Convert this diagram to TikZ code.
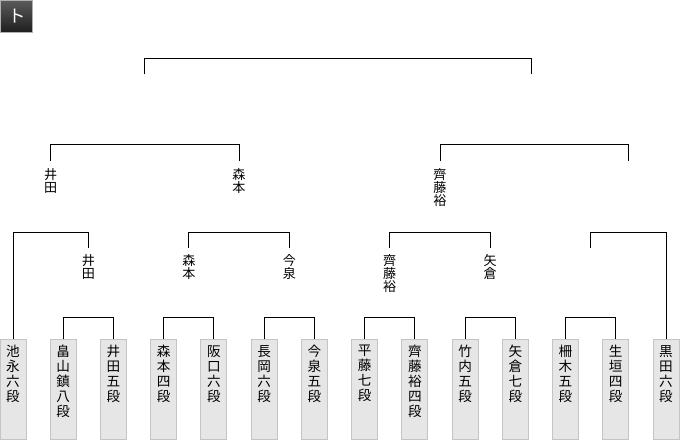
\documentclass[tikz,border=0pt]{standalone}
\usepackage{fontspec}
\newfontfamily\cjk{Noto Sans CJK JP}
\usetikzlibrary{calc}
\definecolor{boxfill}{HTML}{E6E6E6}
\definecolor{boxline}{HTML}{C4C4C4}
\definecolor{badgetop}{HTML}{5A5A5A}
\definecolor{badgebot}{HTML}{1E1E1E}
\definecolor{badgeedge}{HTML}{B0B0B0}
\begin{document}
\begin{tikzpicture}[x=0.75pt,y=-0.75pt,
  bline/.style={draw=black, line width=0.75pt},
  player/.style={draw=boxline, fill=boxfill, line width=0.75pt, minimum width=19.5pt, minimum height=75pt, inner sep=0pt, anchor=north},
  pname/.style={anchor=north, inner sep=0pt, align=center, font={\cjk\fontsize{10.2}{11.25}\selectfont}},
  wname/.style={anchor=north, inner sep=0pt, align=center, font={\cjk\fontsize{9.8}{9.75}\selectfont}}
]
\useasboundingbox (0,0) rectangle (680,440);
% badge
\node[draw=badgeedge, line width=0.75pt, top color=badgetop, bottom color=badgebot, minimum width=24pt, minimum height=24pt, inner sep=0pt, anchor=north west] (badge) at (0,0) {};
\node[text=white, inner sep=0pt, font={\cjk\fontsize{13}{13}\selectfont}] (badgetxt) at (17.5,16) {ト};
% players
\foreach \k/\nm in {0/{池\\永\\六\\段},1/{畠\\山\\鎮\\八\\段},2/{井\\田\\五\\段},3/{森\\本\\四\\段},4/{阪\\口\\六\\段},5/{長\\岡\\六\\段},6/{今\\泉\\五\\段},7/{平\\藤\\七\\段},8/{齊\\藤\\裕\\四\\段},9/{竹\\内\\五\\段},10/{矢\\倉\\七\\段},11/{柵\\木\\五\\段},12/{生\\垣\\四\\段},13/{黒\\田\\六\\段}}{
  \node[player] (b\k) at ({13+50.23*\k},339) {};
  \node[pname] (t\k) at ($(b\k.north)+(0,6)$) {\nm};
}
% round 1
\foreach \i/\j in {1/2,3/4,5/6,7/8,9/10,11/12}
  \draw[bline] (b\i.north) -- ++(0,-22) -| (b\j.north);
% round 2
\coordinate (q1) at (88.3,248);
\coordinate (q2) at (188.8,248);
\coordinate (q3) at (289.3,248);
\coordinate (q4) at (389.7,248);
\coordinate (q5) at (490.2,248);
\coordinate (q6) at (590.7,248);
\draw[bline] (b0.north) |- ($(q1)+(0,-16)$) -- (q1);
\draw[bline] (q2) -- ++(0,-16) -| (q3);
\draw[bline] (q4) -- ++(0,-16) -| (q5);
\draw[bline] (q6) -- ++(0,-16) -| (b13.north);
\node[wname] (w1) at ($(q1)+(0,6)$) {井\\田};
\node[wname] (w2) at ($(q2)+(0,6)$) {森\\本};
\node[wname] (w3) at ($(q3)+(0,6)$) {今\\泉};
\node[wname] (w4) at ($(q4)+(0,6)$) {齊\\藤\\裕};
\node[wname] (w5) at ($(q5)+(0,6)$) {矢\\倉};
% round 3
\coordinate (p1) at (50.6,161);
\coordinate (p2) at (239,161);
\coordinate (p3) at (440,161);
\coordinate (p4) at (628.5,161);
\draw[bline] (p1) -- ++(0,-16.5) -| (p2);
\draw[bline] (p3) -- ++(0,-16.5) -| (p4);
\node[wname] (v1) at ($(p1)+(0,7)$) {井\\田};
\node[wname] (v2) at ($(p2)+(0,7)$) {森\\本};
\node[wname] (v3) at ($(p3)+(0,7)$) {齊\\藤\\裕};
% final
\coordinate (f1) at (144.5,74);
\coordinate (f2) at (531.5,74);
\draw[bline] (f1) -- ++(0,-15.5) -| (f2);
\end{tikzpicture}
\end{document}
